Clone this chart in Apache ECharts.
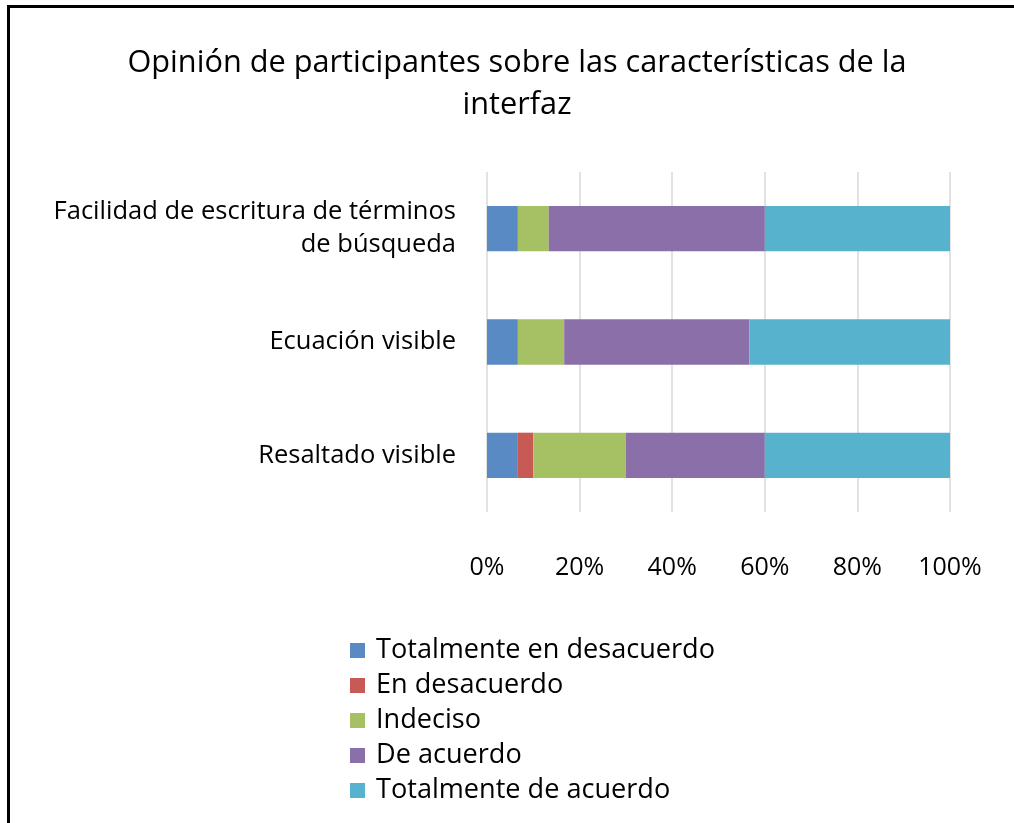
<!DOCTYPE html>
<html>
<head>
<meta charset="utf-8">
<script src="https://cdn.jsdelivr.net/npm/echarts@6/dist/echarts.min.js"></script>
<style>
html,body{margin:0;padding:0;background:#fff;overflow:hidden;}
#wrap{position:relative;width:1014px;height:823px;overflow:hidden;}
#chart{position:absolute;left:0;top:0;width:1014px;height:823px;}
#frame{position:absolute;left:7px;top:5px;width:1100px;height:900px;border-top:3px solid #000;border-left:3px solid #000;pointer-events:none;}
</style>
</head>
<body>
<div id="wrap"><div id="chart"></div><div id="frame"></div></div>
<script>
const categories = ["Facilidad de escritura de términos\nde búsqueda", "Ecuación visible", "Resaltado visible"];
const seriesNames = ["Totalmente en desacuerdo", "En desacuerdo", "Indeciso", "De acuerdo", "Totalmente de acuerdo"];
const totalmenteDesacuerdo = [6.67, 6.67, 6.67];
const enDesacuerdo = [0, 0, 3.33];
const indeciso = [6.67, 10, 20];
const deAcuerdo = [46.67, 40, 30];
const totalmenteAcuerdo = [40, 43.33, 40];
const xTicks = [0, 20, 40, 60, 80, 100];
const colors = ["#5A8AC3", "#C85A55", "#A6C064", "#8B6FA8", "#57B3CD"];
const values = [totalmenteDesacuerdo, enDesacuerdo, indeciso, deAcuerdo, totalmenteAcuerdo];

const FONT = "Open Sans";
const chart = echarts.init(document.getElementById('chart'));
chart.setOption({
  animation: false,
  color: colors,
  title: {
    text: "Opinión de participantes sobre las características de la\ninterfaz",
    left: 517,
    top: 42,
    padding: 0,
    textAlign: 'center',
    textStyle: {fontFamily: FONT, fontSize: 30.7, fontWeight: 'normal', color: '#000', lineHeight: 42}
  },
  legend: {
    orient: 'vertical',
    left: 345,
    top: 632,
    itemWidth: 15,
    itemHeight: 15,
    itemGap: 8,
    icon: 'rect',
    data: seriesNames,
    textStyle: {fontFamily: FONT, fontSize: 27.1, color: '#000', lineHeight: 26, padding: [0,0,0,6]}
  },
  grid: {left: 487, right: 64, top: 172, bottom: 311, containLabel: false},
  xAxis: {
    type: 'value', min: 0, max: 100, interval: 20,
    axisLine: {show: false}, axisTick: {show: false},
    axisLabel: {formatter: v => xTicks.includes(v) ? v + '%' : '', fontFamily: FONT, fontSize: 25, color: '#000', margin: 43},
    splitLine: {show: true, lineStyle: {color: '#E2E2E2', width: 2}}
  },
  yAxis: {
    type: 'category', inverse: true, data: categories,
    axisLine: {show: false}, axisTick: {show: false},
    axisLabel: {fontFamily: FONT, fontSize: 25.5, color: '#000', margin: 31, lineHeight: 33, align: 'right', padding: [4,0,0,0]}
  },
  series: seriesNames.map((n, i) => ({
    name: n, type: 'bar', stack: 'total', barWidth: '40%',
    data: values[i],
    itemStyle: {color: colors[i]}
  }))
});
</script>
</body>
</html>
